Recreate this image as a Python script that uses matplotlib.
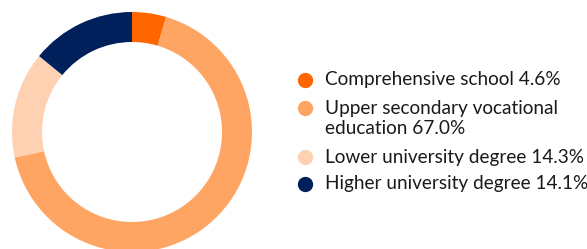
import matplotlib.pyplot as plt
from matplotlib.lines import Line2D

labels = ["Comprehensive school 4.6%",
          "Upper secondary vocational\neducation 67.0%",
          "Lower university degree 14.3%",
          "Higher university degree 14.1%"]
values = [4.6, 67.0, 14.3, 14.1]
colors = ["#FF6600", "#FFA564", "#FFD1B3", "#00205B"]

W, H = 587, 249
fig = plt.figure(figsize=(W / 100, H / 100), dpi=100)

# donut, centre at (132, 132) px from top-left, radius 120 px
r = 120
cx, cy = 132, H - 132
ax = fig.add_axes([(cx - r) / W, (cy - r) / H, 2 * r / W, 2 * r / H])
ax.pie(values, colors=colors, startangle=90, counterclock=False,
       radius=1.0, wedgeprops=dict(width=0.25, linewidth=0))
ax.set_xlim(-1, 1)
ax.set_ylim(-1, 1)
ax.set_aspect("equal")
ax.axis("off")

# legend drawn by hand so the marker sits on the first text line
ys = [80, 108, 157, 184]
for lab, col, y in zip(labels, colors, ys):
    fig.add_artist(Line2D([305 / W], [1 - y / H], marker="o", markersize=10,
                          color=col, linestyle="none", transform=fig.transFigure))
    for i, line in enumerate(lab.split("\n")):
        fig.text(325 / W, 1 - (y + 20 * i) / H, line, ha="left", va="center",
                 fontsize=13.7, family="Lato", color="#1a1a1a")

fig.savefig("out.png", dpi=100)
